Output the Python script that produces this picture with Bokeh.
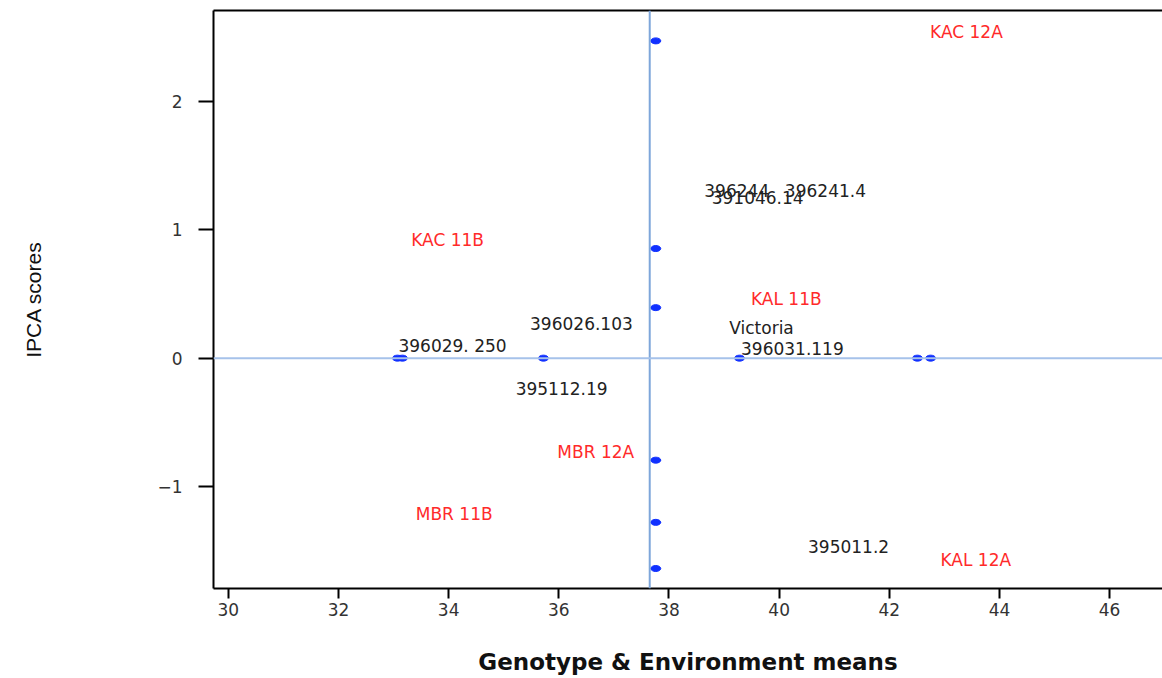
from bokeh.plotting import figure
from bokeh.models import Span, LinearAxis, FixedTicker, Range1d, ColumnDataSource
from bokeh.core.properties import value
from bokeh.embed import file_html
from bokeh.resources import INLINE

# ---- data ----
genotype_names = ["396244", "396241.4", "391046.14", "396026.103", "Victoria",
                  "396029. 250", "396031.119", "395112.19", "395011.2"]
genotype_mean = [39.23, 40.84, 39.61, 36.41, 39.68, 34.07, 40.24, 36.05, 41.26]
genotype_ipca = [1.31, 1.31, 1.25, 0.268, 0.237, 0.096, 0.073, -0.24, -1.469]

env_names = ["KAC 12A", "KAC 11B", "KAL 11B", "MBR 12A", "MBR 11B", "KAL 12A"]
env_mean = [43.40, 33.98, 40.13, 36.67, 34.10, 43.57]
env_ipca = [2.545, 0.918, 0.464, -0.733, -1.218, -1.578]

point_x = [33.07, 33.16, 35.72, 39.28, 42.51, 42.75,
           37.76, 37.76, 37.76, 37.76, 37.76, 37.76]
point_y = [0, 0, 0, 0, 0, 0,
           2.475, 0.855, 0.394, -0.796, -1.281, -1.641]

grand_mean = 37.65
x_ticks = [30, 32, 34, 36, 38, 40, 42, 44, 46]
y_ticks = [-1, 0, 1, 2]

FONT = "DejaVu Sans"

p = figure(width=1162, height=678, output_backend="svg", toolbar_location=None,
           x_range=Range1d(29.73, 46.96), y_range=Range1d(-1.797, 2.712),
           min_border_left=213, min_border_right=0, min_border_top=10,
           min_border_bottom=90)
p.outline_line_color = None
p.grid.visible = False
p.background_fill_color = "white"
p.border_fill_color = "white"

# reference lines
p.add_layout(Span(location=grand_mean, dimension="height",
                  line_color="#7ea6da", line_width=2))
p.add_layout(Span(location=0, dimension="width",
                  line_color="#a6c2ea", line_width=2))

# points
p.ellipse(x=point_x, y=point_y, width=10, height=6,
          width_units="screen", height_units="screen",
          fill_color="#1030ff", line_color="#1030ff")

# genotype labels
gsrc = ColumnDataSource(dict(x=genotype_mean, y=genotype_ipca, t=genotype_names))
p.text(x="x", y="y", text="t", source=gsrc, text_color="#222222",
       text_font=value(FONT), text_font_size="17px",
       text_align="center", text_baseline="middle")

# environment labels
esrc = ColumnDataSource(dict(x=env_mean, y=env_ipca, t=env_names))
p.text(x="x", y="y", text="t", source=esrc, text_color="#ff2a2a",
       text_font=value(FONT), text_font_size="17px",
       text_align="center", text_baseline="middle")

# axes
xa = p.xaxis[0]
xa.ticker = FixedTicker(ticks=x_ticks)
xa.axis_line_color = "black"
xa.axis_line_width = 2
xa.major_tick_line_color = "black"
xa.major_tick_line_width = 2
xa.major_tick_in = 0
xa.major_tick_out = 10
xa.minor_tick_line_color = None
xa.major_label_text_font = FONT
xa.major_label_text_font_size = "17px"
xa.major_label_text_color = "#333333"
xa.major_label_standoff = 4
xa.axis_label = "Genotype & Environment means"
xa.axis_label_text_font = FONT
xa.axis_label_text_font_style = "bold"
xa.axis_label_text_font_size = "23px"
xa.axis_label_text_color = "#111111"
xa.axis_label_standoff = 30

ya = p.yaxis[0]
ya.ticker = FixedTicker(ticks=y_ticks)
ya.axis_line_color = "black"
ya.axis_line_width = 2
ya.major_tick_line_color = "black"
ya.major_tick_line_width = 2
ya.major_tick_in = 0
ya.major_tick_out = 15
ya.minor_tick_line_color = None
ya.major_label_text_font = FONT
ya.major_label_text_font_size = "17px"
ya.major_label_text_color = "#333333"
ya.major_label_standoff = 16
ya.axis_label = "IPCA scores"
ya.axis_label_text_font = "Liberation Sans"
ya.axis_label_text_font_style = "normal"
ya.axis_label_text_font_size = "21px"
ya.axis_label_text_color = "#111111"
ya.axis_label_standoff = 109

top = LinearAxis(ticker=FixedTicker(ticks=[]), axis_line_color="black",
                 axis_line_width=2, major_tick_line_color=None,
                 minor_tick_line_color=None, major_label_text_font_size="0px")
p.add_layout(top, "above")

open("out.html", "w").write(file_html(p, INLINE))
